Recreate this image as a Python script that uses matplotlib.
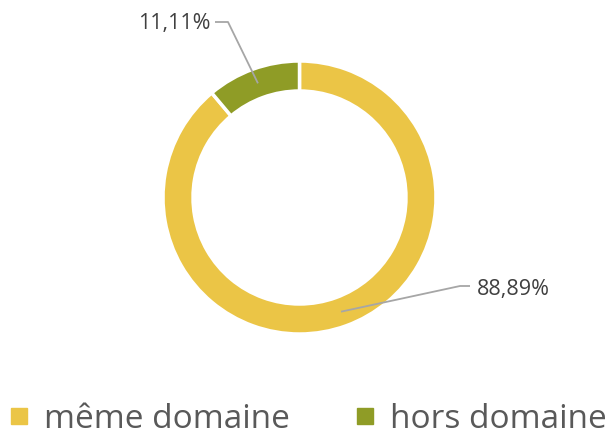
import numpy as np
import matplotlib
matplotlib.use('Agg')
import matplotlib.pyplot as plt
from matplotlib.lines import Line2D

categories = ['même domaine', 'hors domaine']
values = [88.89, 11.11]
labels = ['88,89%', '11,11%']
colors = ['#EBC546', '#8F9C26']

W, H = 609, 437
fig = plt.figure(figsize=(W / 100, H / 100), dpi=100)
ax = fig.add_axes([0, 0, 1, 1])

cx, cy = 299.5, H - 197.5
r_out, ring = 136.5, 30

wedges, _ = ax.pie(values, colors=colors, startangle=90, counterclock=False,
                   center=(cx, cy), radius=r_out, frame=True,
                   wedgeprops=dict(width=ring, edgecolor='white', linewidth=2.5))
ax.set_xlim(0, W)
ax.set_ylim(0, H)
ax.set_aspect('equal')
ax.axis('off')

# label placement (elbow point, end of horizontal, text anchor)
label_pos = [
    ((460, H - 286), (470, H - 286), (477, H - 289), 'left'),
    ((228, H - 22), (215, H - 22), (211, H - 23), 'right'),
]

r_mid = r_out - ring / 2
for w, lab, (elbow, end, tpos, ha) in zip(wedges, labels, label_pos):
    ang = np.deg2rad((w.theta1 + w.theta2) / 2)
    sx = cx + r_mid * np.cos(ang)
    sy = cy + r_mid * np.sin(ang)
    ax.plot([sx, elbow[0], end[0]], [sy, elbow[1], end[1]],
            color='#A6A6A6', lw=1.3, solid_capstyle='butt')
    ax.text(tpos[0], tpos[1], lab, ha=ha, va='center', fontsize=15.5,
            color='#404040', family='Open Sans')

handles = [Line2D([], [], marker='s', linestyle='none', markersize=11,
                  markerfacecolor=c, markeredgecolor=c) for c in colors]
ax.legend(handles, categories, loc='center', bbox_to_anchor=(0.505, 0.04),
          ncol=2, frameon=False, handletextpad=0.45, columnspacing=1.95,
          prop={'family': 'Open Sans', 'size': 24}, labelcolor='#595959',
          handlelength=0.6)

fig.savefig('out.png', dpi=100)
